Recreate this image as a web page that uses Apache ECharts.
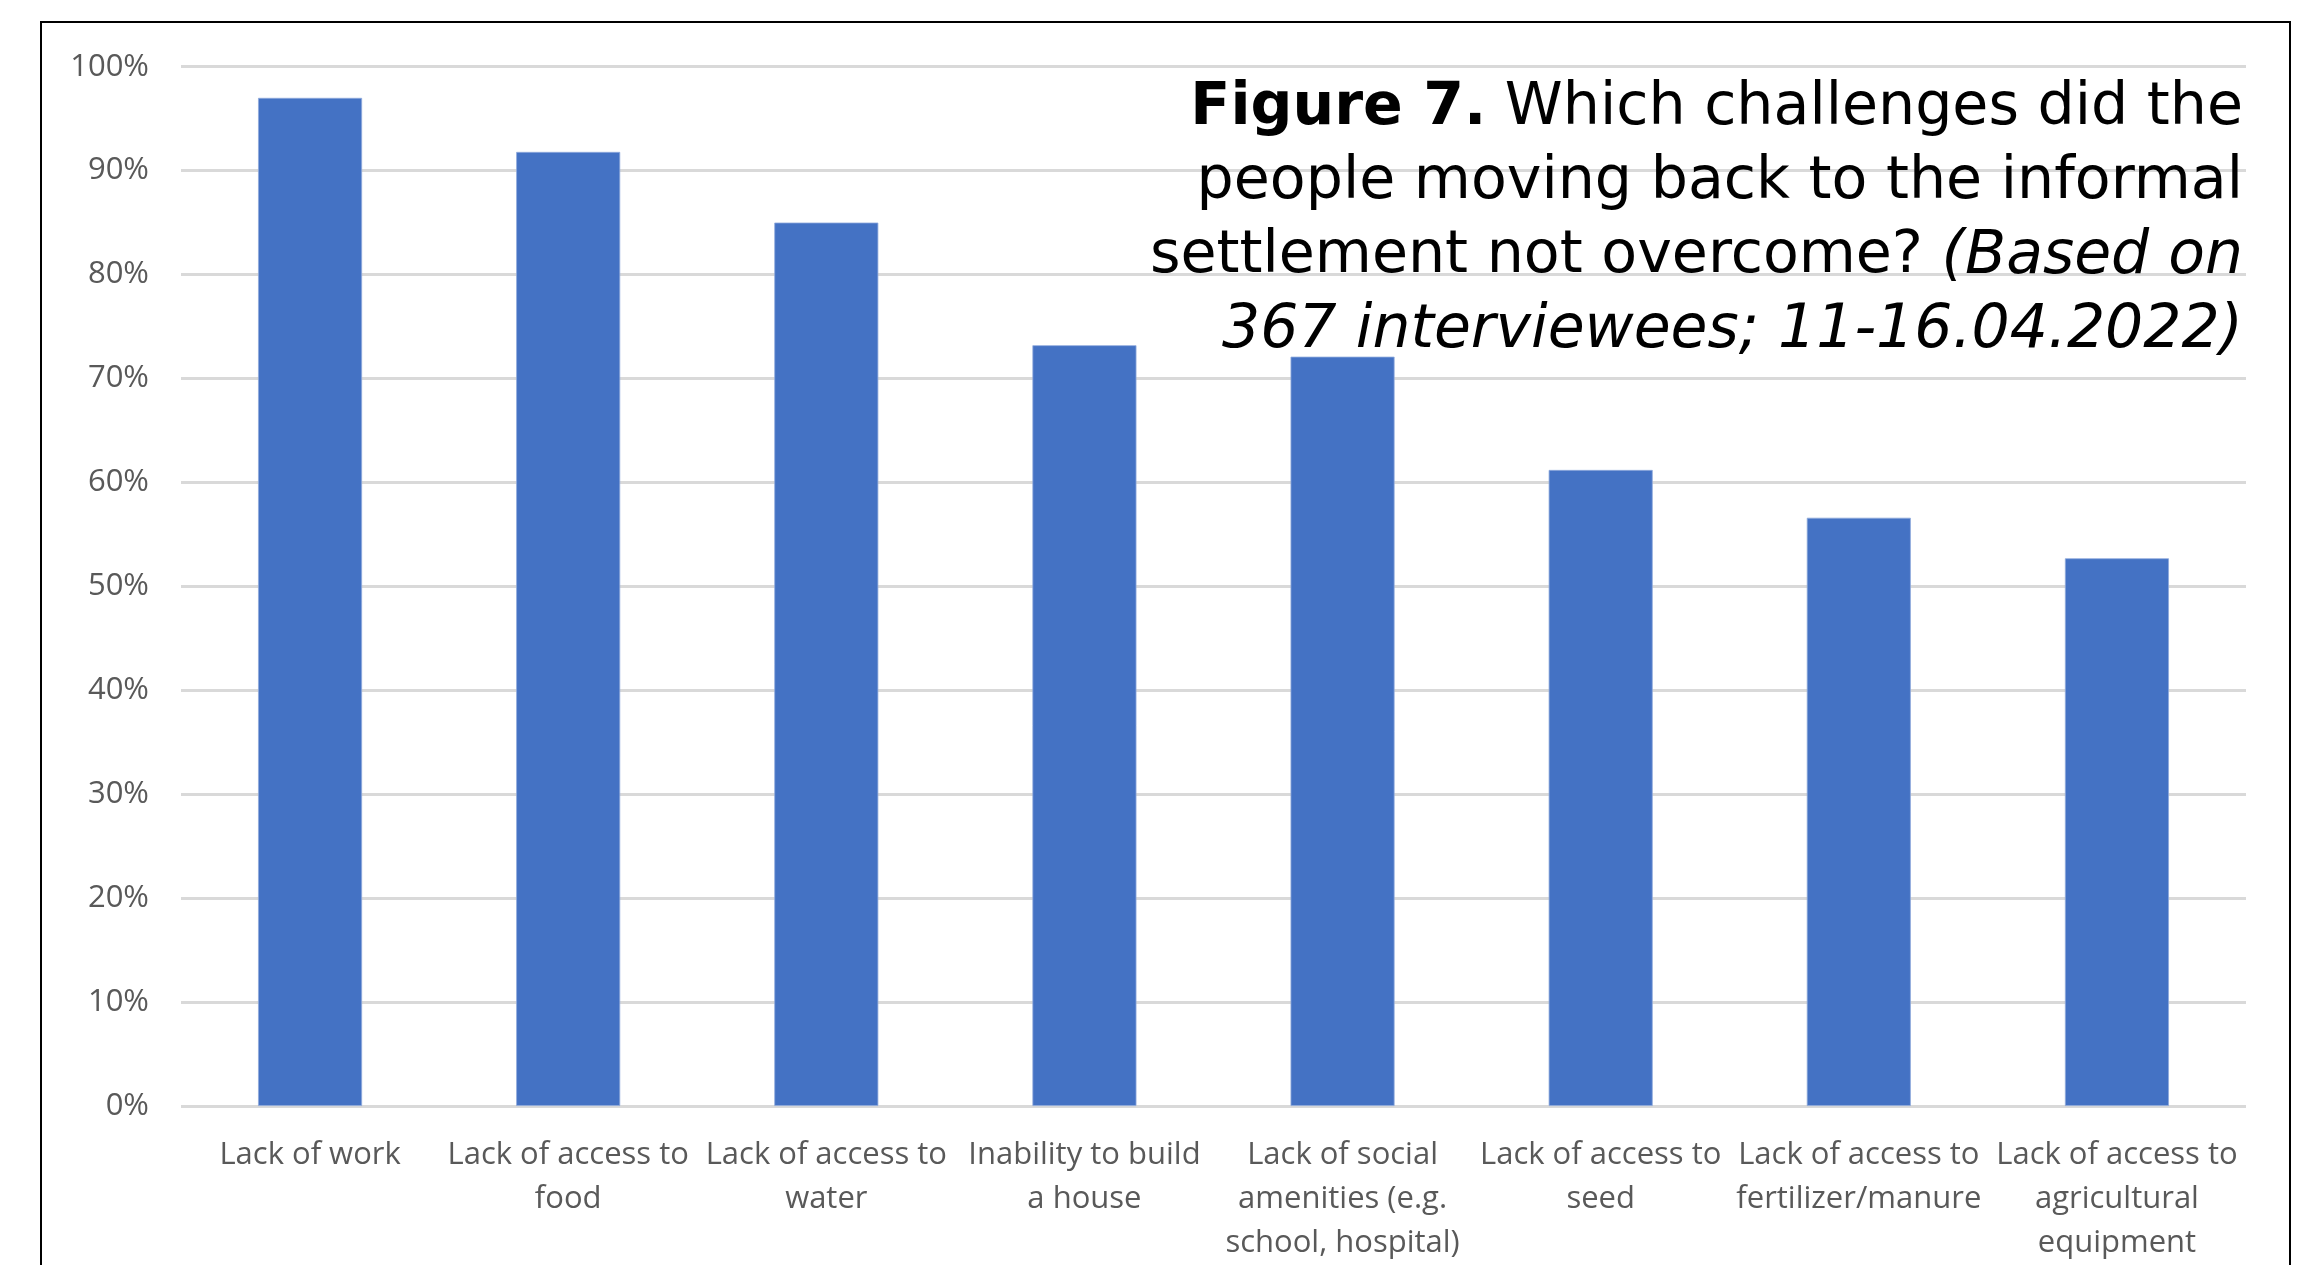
<!DOCTYPE html>
<html>
<head>
<meta charset="utf-8">
<title>Figure 7</title>
<script src="https://cdn.jsdelivr.net/npm/echarts@6/dist/echarts.min.js"></script>
<style>
  html, body { margin: 0; padding: 0; background: #ffffff; }
  #chart { width: 2318px; height: 1265px; }
</style>
</head>
<body>
<div id="chart"></div>
<script>
// Challenges not overcome by people moving back to the informal settlement
const categories = [
  'Lack of work',
  'Lack of access to\nfood',
  'Lack of access to\nwater',
  'Inability to build\na house',
  'Lack of social\namenities (e.g.\nschool, hospital)',
  'Lack of access to\nseed',
  'Lack of access to\nfertilizer/manure',
  'Lack of access to\nagricultural\nequipment'
];

// Share of interviewees (%)
const shares = [97.0, 91.8, 85.0, 73.2, 72.1, 61.2, 56.6, 52.7];

// Caption lines, each made of styled runs
const captionLines = [
  [['b', 'Figure 7.'], ['n', ' Which challenges did the']],
  [['n', 'people moving back to the informal']],
  [['n', 'settlement not overcome? '], ['i', '(Based on']],
  [['i', '367 interviewees; 11-16.04.2022)']]
];

const captionFont = '"DejaVu Sans", Verdana, sans-serif';
const axisFont = '"Open Sans", "Noto Sans", sans-serif';
const captionSize = 58.6;
const captionItalicSize = 60;
const captionRight = 2243;
const captionMid = [109, 183, 257, 331];

const captionRich = {
  b: { fontFamily: captionFont, fontSize: captionSize, fontWeight: 'bold', fill: '#000000' },
  n: { fontFamily: captionFont, fontSize: captionSize, fill: '#000000' },
  i: { fontFamily: captionFont, fontSize: captionItalicSize, fontStyle: 'italic', fill: '#000000' }
};

const captionElements = captionLines.map(function (runs, k) {
  return {
    type: 'text',
    z: 10,
    x: captionRight,
    y: captionMid[k],
    style: {
      text: runs.map(function (r) { return '{' + r[0] + '|' + r[1] + '}'; }).join(''),
      rich: captionRich,
      align: 'right',
      verticalAlign: 'middle',
      fontFamily: captionFont,
      fontSize: captionSize
    }
  };
});

const chart = echarts.init(document.getElementById('chart'), null, { renderer: 'canvas' });

chart.setOption({
  backgroundColor: '#ffffff',
  animation: false,
  grid: { left: 181, right: 72, top: 66.7, bottom: 159, containLabel: false },
  xAxis: {
    type: 'category',
    data: categories,
    axisTick: { show: false },
    axisLine: { show: false },
    axisLabel: {
      interval: 0,
      margin: 27,
      color: '#595959',
      fontFamily: axisFont,
      fontSize: 31,
      lineHeight: 44
    }
  },
  yAxis: {
    type: 'value',
    min: 0,
    max: 100,
    interval: 10,
    axisLine: { show: false },
    axisTick: { show: false },
    axisLabel: {
      formatter: '{value}%',
      margin: 32,
      color: '#595959',
      fontFamily: axisFont,
      fontSize: 31
    },
    splitLine: { show: true, lineStyle: { color: '#d9d9d9', width: 3 } }
  },
  series: [{
    type: 'bar',
    data: shares,
    barCategoryGap: '59.7%',
    itemStyle: { color: '#4472c4', borderColor: '#8faadc', borderWidth: 0.8 },
    z: 3
  }],
  graphic: [
    {
      type: 'rect',
      z: 1,
      shape: { x: 41, y: 22, width: 2249, height: 1400 },
      style: { fill: 'none', stroke: '#000000', lineWidth: 2 }
    }
  ].concat(captionElements)
});
</script>
</body>
</html>
